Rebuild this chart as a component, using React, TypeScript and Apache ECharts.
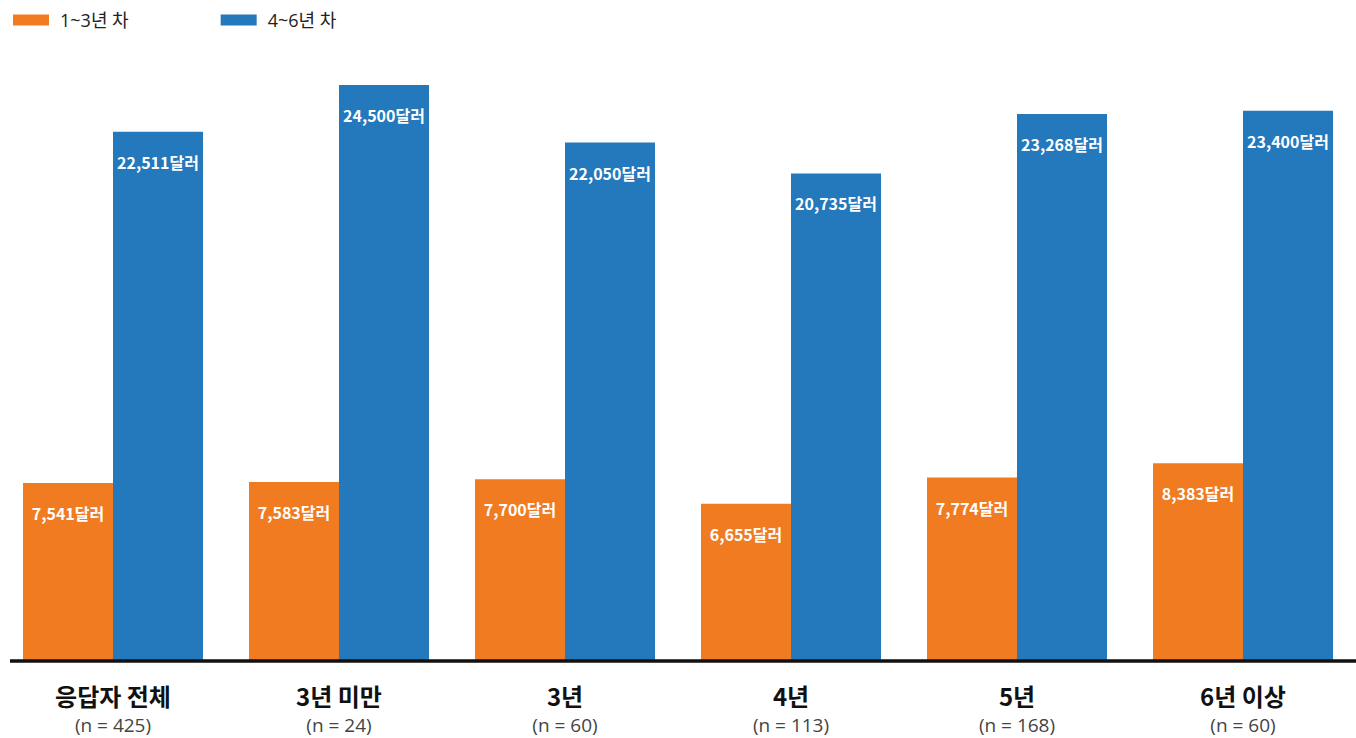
import React, { useEffect, useRef } from "react";
import * as echarts from "echarts";

const categories = ["응답자 전체", "3년 미만", "3년", "4년", "5년", "6년 이상"];
const sampleSizes = [425, 24, 60, 113, 168, 60];
const series1to3 = [7541, 7583, 7700, 6655, 7774, 8383];
const series4to6 = [22511, 24500, 22050, 20735, 23268, 23400];
const seriesNames = ["1~3년 차", "4~6년 차"];

const FONT = "'Noto Sans CJK KR', 'Noto Sans', sans-serif";
const FONT_LATIN = "'Open Sans', 'Noto Sans CJK KR', sans-serif";

export default function App() {
  const ref = useRef<HTMLDivElement>(null);
  useEffect(() => {
    if (!ref.current) return;
    const chart = echarts.init(ref.current, null, { renderer: "svg" });
    const fmt = (p: any) => `${Number(p.value).toLocaleString("en-US")}달러`;
    const labelStyle = {
      show: true,
      position: "insideTop" as const,
      distance: 22,
      color: "#ffffff",
      fontSize: 16,
      fontWeight: "bold" as const,
      fontFamily: FONT,
      formatter: fmt,
    };
    chart.setOption({
      animation: false,
      textStyle: { fontFamily: FONT },
      legend: {
        left: 8,
        top: 6,
        itemWidth: 36,
        itemHeight: 11,
        itemGap: 92,
        icon: "rect",
        textStyle: { fontSize: 18, color: "#222", fontFamily: FONT_LATIN, padding: [0, 0, 0, 6] },
        data: seriesNames,
      },
      grid: { left: -4, right: -6, top: 73.3, bottom: 78, containLabel: false },
      xAxis: {
        type: "category",
        data: categories,
        axisLine: { show: false },
        axisTick: { show: false },
        axisLabel: {
          margin: 20,
          interval: 0,
          formatter: (v: string, i: number) => `{a|${v}}\n{b|(n = ${sampleSizes[i]})}`,
          rich: {
            a: { fontSize: 24, fontWeight: "bold", color: "#111", fontFamily: FONT, lineHeight: 30 },
            b: { fontSize: 19, color: "#444", fontFamily: FONT_LATIN, lineHeight: 30 },
          },
        },
      },
      yAxis: {
        type: "value",
        min: 0,
        max: 25000,
        show: false,
        splitLine: { show: false },
      },
      series: [
        {
          name: seriesNames[0],
          type: "bar",
          data: series1to3,
          barWidth: 90,
          barGap: "0%",
          itemStyle: { color: "#F17B21" },
          label: labelStyle,
        },
        {
          name: seriesNames[1],
          type: "bar",
          data: series4to6,
          barWidth: 90,
          barGap: "0%",
          itemStyle: { color: "#2478BC" },
          label: labelStyle,
        },
      ],
      graphic: [
        {
          type: "line",
          z: 100,
          shape: { x1: 10, y1: 661, x2: 1356, y2: 661 },
          style: { stroke: "#111111", lineWidth: 3.5 },
        },
      ],
    });
    return () => chart.dispose();
  }, []);
  return (
    <div
      ref={ref}
      style={{ position: "fixed", left: 0, top: 0, width: 1356, height: 738, background: "#fff" }}
    />
  );
}
